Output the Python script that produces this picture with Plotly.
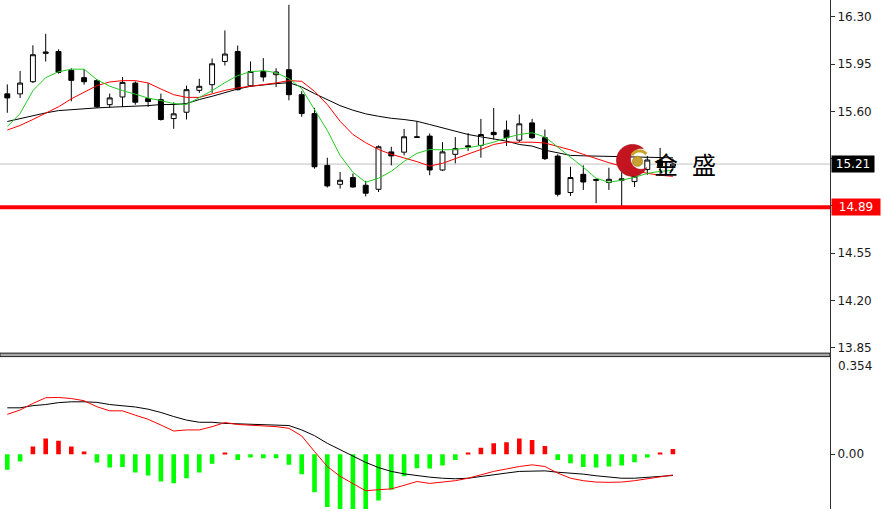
import numpy as np
import plotly.graph_objects as go

# ---------------- data ----------------
bars = list(range(53))

open_ = [15.73, 15.73, 15.82, 16.03, 16.044, 15.904, 15.85, 15.828, 15.65, 15.707,
         15.81, 15.695, 15.687, 15.547, 15.594, 15.756, 15.798, 15.97, 16.044, 15.79,
         15.896, 15.872, 15.909, 15.724, 15.584, 15.20, 15.06, 15.11, 15.053, 15.023,
         15.30, 15.298, 15.412, 15.417, 15.166, 15.282, 15.345, 15.348, 15.445, 15.461,
         15.387, 15.515, 15.405, 15.269, 14.999, 15.134, 15.095, 15.073, 15.09, 15.08,
         15.17, 15.235, 15.195]
high = [15.80, 15.90, 16.09, 16.175, 16.06, 15.92, 15.914, 15.84, 15.732, 15.855,
        15.822, 15.81, 15.732, 15.667, 15.791, 15.842, 15.992, 16.20, 16.088, 15.97,
        15.995, 15.92, 16.39, 15.75, 15.626, 15.257, 15.151, 15.14, 15.085, 15.348,
        15.338, 15.47, 15.527, 15.436, 15.372, 15.41, 15.44, 15.545, 15.626, 15.532,
        15.577, 15.545, 15.466, 15.282, 15.19, 15.20, 15.102, 15.183, 15.15, 15.14,
        15.27, 15.33, 15.25]
low = [15.59, 15.70, 15.81, 15.97, 15.88, 15.675, 15.798, 15.626, 15.626, 15.634,
       15.65, 15.634, 15.532, 15.471, 15.54, 15.737, 15.737, 15.94, 15.756, 15.786,
       15.822, 15.78, 15.682, 15.56, 15.176, 15.036, 15.028, 15.036, 14.97, 15.003,
       15.20, 15.274, 15.405, 15.127, 15.158, 15.215, 15.306, 15.257, 15.392, 15.343,
       15.372, 15.397, 15.24, 14.97, 14.974, 15.018, 14.92, 15.018, 14.90, 15.04,
       15.13, 15.13, 15.17]
close = [15.70, 15.81, 16.02, 16.04, 15.889, 15.83, 15.82, 15.634, 15.70, 15.815,
         15.668, 15.673, 15.54, 15.582, 15.761, 15.786, 15.953, 16.025, 15.761, 15.896,
         15.855, 15.892, 15.724, 15.584, 15.19, 15.048, 15.09, 15.04, 14.994, 15.338,
         15.27, 15.412, 15.408, 15.166, 15.30, 15.324, 15.337, 15.429, 15.428, 15.405,
         15.508, 15.405, 15.25, 14.986, 15.11, 15.077, 15.09, 15.097, 15.10, 15.12,
         15.24, 15.195, 15.21]

ma_fast = [15.488, 15.584, 15.754, 15.850, 15.894, 15.913, 15.913, 15.835, 15.787, 15.754,
           15.728, 15.699, 15.680, 15.658, 15.651, 15.702, 15.754, 15.813, 15.865, 15.894,
           15.902, 15.887, 15.843, 15.769, 15.614, 15.459, 15.274, 15.149, 15.075, 15.105,
           15.156, 15.230, 15.289, 15.318, 15.315, 15.318, 15.331, 15.348, 15.372, 15.405,
           15.429, 15.442, 15.411, 15.337, 15.267, 15.186, 15.105, 15.075, 15.090, 15.112,
           15.141, 15.156, 15.163]
ma_mid = [15.462, 15.496, 15.540, 15.584, 15.634, 15.693, 15.741, 15.791, 15.818, 15.828,
          15.828, 15.811, 15.766, 15.724, 15.704, 15.704, 15.730, 15.756, 15.774, 15.786,
          15.796, 15.811, 15.828, 15.823, 15.749, 15.651, 15.527, 15.429, 15.368, 15.318,
          15.282, 15.257, 15.228, 15.195, 15.215, 15.250, 15.282, 15.318, 15.355, 15.372,
          15.372, 15.372, 15.366, 15.343, 15.315, 15.282, 15.250, 15.220, 15.193, 15.163,
          15.141, 15.127, 15.119]
ma_slow = [15.525, 15.547, 15.569, 15.589, 15.606, 15.614, 15.621, 15.626, 15.631, 15.634,
           15.638, 15.643, 15.651, 15.651, 15.658, 15.688, 15.712, 15.741, 15.766, 15.786,
           15.798, 15.806, 15.813, 15.781, 15.732, 15.688, 15.643, 15.609, 15.582, 15.564,
           15.549, 15.540, 15.527, 15.503, 15.479, 15.454, 15.429, 15.412, 15.397, 15.380,
           15.355, 15.343, 15.313, 15.294, 15.274, 15.271, 15.269, 15.269, 15.269, 15.267,
           15.263, 15.259, 15.256]

macd_hist = [-0.057, -0.027, 0.028, 0.058, 0.049, 0.028, 0.010, -0.030, -0.049, -0.047,
             -0.067, -0.078, -0.100, -0.106, -0.088, -0.067, -0.035, 0.004, -0.021, -0.012,
             -0.015, -0.015, -0.039, -0.073, -0.139, -0.193, -0.22, -0.22, -0.21, -0.170,
             -0.130, -0.081, -0.051, -0.052, -0.041, -0.021, 0.004, 0.024, 0.040, 0.044,
             0.058, 0.052, 0.030, -0.021, -0.033, -0.047, -0.049, -0.045, -0.041, -0.029,
             -0.012, 0.004, 0.019]
macd_line = [0.146, 0.162, 0.186, 0.207, 0.208, 0.204, 0.196, 0.174, 0.159, 0.159,
             0.143, 0.128, 0.107, 0.085, 0.089, 0.089, 0.101, 0.116, 0.109, 0.107,
             0.103, 0.101, 0.095, 0.067, 0.010, -0.045, -0.081, -0.109, -0.134, -0.130,
             -0.127, -0.114, -0.100, -0.107, -0.102, -0.097, -0.088, -0.076, -0.063, -0.054,
             -0.045, -0.039, -0.045, -0.069, -0.088, -0.097, -0.102, -0.103, -0.102, -0.097,
             -0.090, -0.084, -0.076]
signal_line = [0.170, 0.170, 0.178, 0.182, 0.189, 0.192, 0.192, 0.190, 0.182, 0.178,
               0.173, 0.165, 0.153, 0.138, 0.125, 0.117, 0.117, 0.113, 0.111, 0.109,
               0.109, 0.107, 0.105, 0.089, 0.068, 0.040, 0.016, -0.008, -0.030, -0.049,
               -0.063, -0.072, -0.079, -0.084, -0.088, -0.090, -0.088, -0.081, -0.076, -0.069,
               -0.063, -0.061, -0.061, -0.066, -0.069, -0.073, -0.079, -0.084, -0.088, -0.088,
               -0.085, -0.083, -0.078]

last_price = 15.21
support_level = 14.89
price_ticks = [16.30, 15.95, 15.60, 15.25, 14.90, 14.55, 14.20, 13.85]
# 15.25 and 14.90 are covered by the price boxes in the reference
price_tick_text = ["16.30", "15.95", "15.60", "", "", "14.55", "14.20", "13.85"]
macd_ticks = [0.0]
macd_tick_text = ["0.00"]
macd_max_label = "0.354"
logo_chars = ["金", "盛"]

# ---------------- layout helpers (pixels -> paper) ----------------
W, H = 884, 511
PLOT_RIGHT = 830


def px(x):
    return x / W


def py(y):
    return 1 - y / H


FONT = "DejaVu Sans"
TXT = "#1a1a1a"

fig = go.Figure()

fig.add_trace(go.Candlestick(
    x=bars, open=open_, high=high, low=low, close=close,
    increasing=dict(line=dict(color="black", width=1), fillcolor="white"),
    decreasing=dict(line=dict(color="black", width=1), fillcolor="black"),
    whiskerwidth=0, showlegend=False, hoverinfo="skip",
    xaxis="x", yaxis="y"))

for series, col in [(ma_slow, "#000000"), (ma_mid, "#ff0000"), (ma_fast, "#22cc22")]:
    fig.add_trace(go.Scatter(x=bars, y=series, mode="lines",
                             line=dict(color=col, width=1),
                             showlegend=False, hoverinfo="skip",
                             xaxis="x", yaxis="y"))

fig.add_trace(go.Bar(x=bars, y=macd_hist, width=0.36,
                     marker=dict(color=["#ff0000" if v > 0 else "#00ff00" for v in macd_hist],
                                 line=dict(width=0)),
                     showlegend=False, hoverinfo="skip", xaxis="x2", yaxis="y2"))
fig.add_trace(go.Scatter(x=bars, y=signal_line, mode="lines",
                         line=dict(color="#000000", width=1),
                         showlegend=False, hoverinfo="skip", xaxis="x2", yaxis="y2"))
fig.add_trace(go.Scatter(x=bars, y=macd_line, mode="lines",
                         line=dict(color="#ff0000", width=1),
                         showlegend=False, hoverinfo="skip", xaxis="x2", yaxis="y2"))

# axis ranges derived from pixel calibration
px_per_unit_price = 135.5
price_top = 16.30 + 17 / px_per_unit_price
price_bot = 16.30 - (354 - 17) / px_per_unit_price
px_per_unit_macd = 274.0
macd_top = (456 - 358) / px_per_unit_macd
macd_bot = -(511 - 456) / px_per_unit_macd
slot = 12.8
x0 = -7.3 / slot
x1 = x0 + PLOT_RIGHT / slot

xdom = [0, px(PLOT_RIGHT)]
common_y = dict(side="right", showgrid=False, zeroline=False, showline=False,
                ticks="outside", ticklen=4, tickcolor="#303030", tickwidth=1,
                tickfont=dict(family=FONT, size=12, color=TXT), fixedrange=True)

fig.update_layout(
    width=W, height=H,
    margin=dict(l=0, r=0, t=0, b=0),
    paper_bgcolor="white", plot_bgcolor="white",
    hovermode=False, showlegend=False,
    boxgap=0.45,
    xaxis=dict(domain=xdom, range=[x0, x1], visible=False, anchor="y",
               rangeslider=dict(visible=False), fixedrange=True),
    yaxis=dict(domain=[py(354), 1], range=[price_bot, price_top], anchor="x",
               tickvals=price_ticks, ticktext=price_tick_text, **common_y),
    xaxis2=dict(domain=xdom, range=[x0, x1], visible=False, anchor="y2", fixedrange=True),
    yaxis2=dict(domain=[0, py(358)], range=[macd_bot, macd_top], anchor="x2",
                tickvals=macd_ticks, ticktext=macd_tick_text, **common_y),
)

shapes = []
# last price line (grey) and support level (thick red)
shapes.append(dict(type="line", xref="paper", yref="y", x0=0, x1=px(PLOT_RIGHT),
                   y0=last_price, y1=last_price, line=dict(color="#c0c0c0", width=1),
                   layer="below"))
shapes.append(dict(type="line", xref="paper", yref="y", x0=0, x1=px(PLOT_RIGHT),
                   y0=support_level, y1=support_level, line=dict(color="#ff0000", width=4),
                   layer="above"))
# panel separator
shapes.append(dict(type="rect", xref="paper", yref="paper", x0=0, x1=px(PLOT_RIGHT),
                   y0=py(358), y1=py(354.5), fillcolor="#a8a8a8",
                   line=dict(color="#202020", width=1), layer="above"))
# right axis line
shapes.append(dict(type="line", xref="paper", yref="paper", x0=px(PLOT_RIGHT + 0.5),
                   x1=px(PLOT_RIGHT + 0.5), y0=0, y1=1,
                   line=dict(color="#303030", width=1), layer="above"))

# ---- logo: red crescent, gold arc, gold ball ----
O = np.array([632.5, 161.0]); R = 16.0
I = np.array([641.0, 159.5]); r = 10.5
d = np.linalg.norm(I - O)
a = (R ** 2 - r ** 2 + d ** 2) / (2 * d)
h = np.sqrt(max(R ** 2 - a ** 2, 0))
u = (I - O) / d
perp = np.array([-u[1], u[0]])
P2 = O + a * u
p_a, p_b = P2 + h * perp, P2 - h * perp
phi = np.arctan2(-u[1], -u[0])


def rel(ang):
    return (ang - phi + np.pi) % (2 * np.pi) - np.pi


oa = rel(np.arctan2(*(p_a - O)[::-1])); ob = rel(np.arctan2(*(p_b - O)[::-1]))
ia = rel(np.arctan2(*(p_a - I)[::-1])); ib = rel(np.arctan2(*(p_b - I)[::-1]))
t_out = np.linspace(min(oa, ob), max(oa, ob), 60) + phi
t_in = np.linspace(max(ia, ib), min(ia, ib), 60) + phi
pts = [(O[0] + R * np.cos(t), O[1] + R * np.sin(t)) for t in t_out]
pts += [(I[0] + r * np.cos(t), I[1] + r * np.sin(t)) for t in t_in]
path = "M " + " L ".join(f"{px(x):.5f},{py(y):.5f}" for x, y in pts) + " Z"
shapes.append(dict(type="path", xref="paper", yref="paper", path=path,
                   fillcolor="#c41420", line=dict(color="#9a0a14", width=0.6), layer="above"))

arc_c = np.array([639.5, 160.5]); arc_r = 9.0
t_arc = np.linspace(np.deg2rad(212), np.deg2rad(320), 30)
arc_pts = [(arc_c[0] + arc_r * np.cos(t), arc_c[1] + arc_r * np.sin(t)) for t in t_arc]
arc_path = "M " + " L ".join(f"{px(x):.5f},{py(y):.5f}" for x, y in arc_pts)
shapes.append(dict(type="path", xref="paper", yref="paper", path=arc_path,
                   line=dict(color="#c9a227", width=3), layer="above"))
shapes.append(dict(type="circle", xref="paper", yref="paper",
                   x0=px(632.5), x1=px(642.5), y0=py(167), y1=py(157),
                   fillcolor="#c9a130", line=dict(color="#a9801a", width=0.8), layer="above"))

fig.update_layout(shapes=shapes)

ann = []
# axis-side labels
ann.append(dict(xref="paper", yref="y", x=px(831), y=last_price, xanchor="left",
                yanchor="middle", text="15.21", showarrow=False, bgcolor="#000000",
                font=dict(family=FONT, size=12, color="white"), width=40, align="center",
                borderpad=1))
ann.append(dict(xref="paper", yref="y", x=px(831), y=support_level, xanchor="left",
                yanchor="middle", text="14.89", showarrow=False, bgcolor="#ff0000",
                font=dict(family=FONT, size=12, color="white"), width=46, align="center",
                borderpad=1))
ann.append(dict(xref="paper", yref="paper", x=px(836), y=py(367), xanchor="left",
                yanchor="middle", text=macd_max_label, showarrow=False,
                font=dict(family=FONT, size=12, color=TXT)))
# logo text
for ch, cx in zip(logo_chars, [666, 704]):
    ann.append(dict(xref="paper", yref="paper", x=px(cx), y=py(164), xanchor="center",
                    yanchor="middle", text=ch, showarrow=False,
                    font=dict(family="Noto Sans CJK SC", size=24, color="#000000")))
fig.update_layout(annotations=ann)

fig.write_html("out.html",
               config={"displayModeBar": False},
               post_script="document.body.style.margin='0';document.body.style.overflow='hidden';")
